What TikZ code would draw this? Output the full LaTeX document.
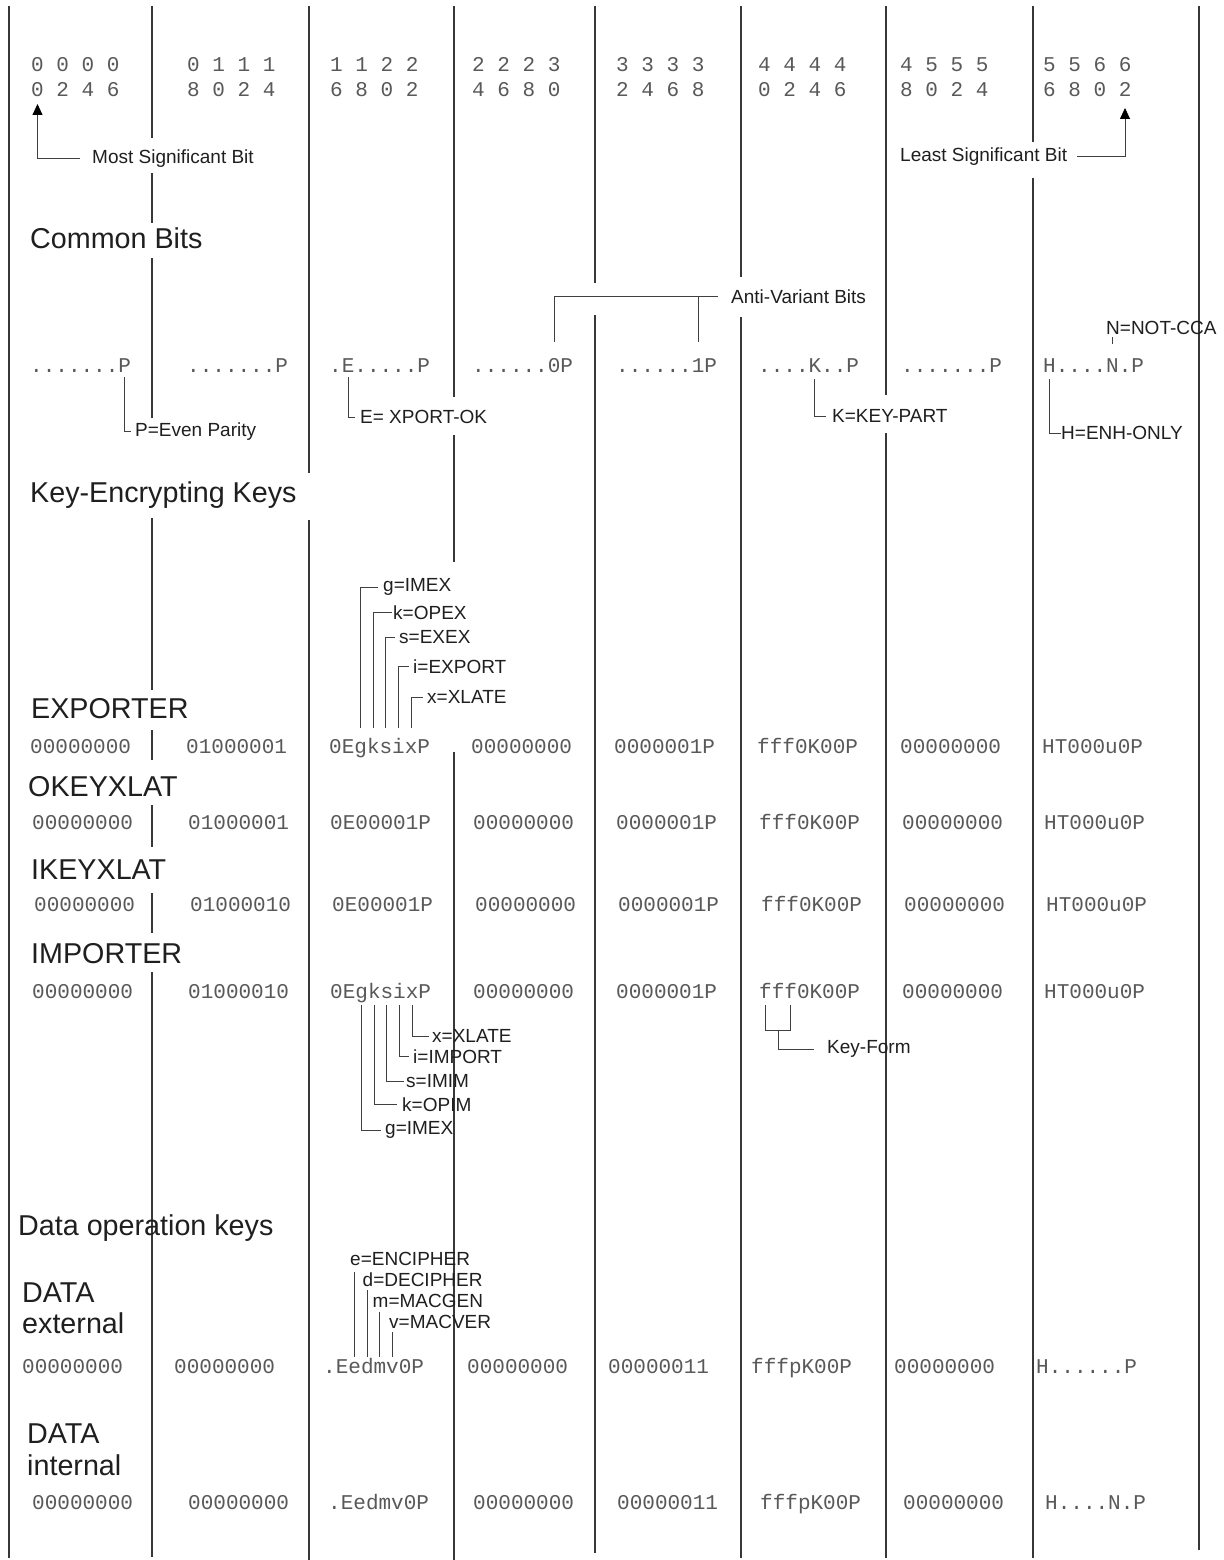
\documentclass[tikz,border=0pt]{standalone}
\usepackage{fontspec}
\setmainfont{Liberation Sans}
\newfontfamily\monofam{Liberation Mono}
\usetikzlibrary{arrows.meta}
\newcommand\labf{\fontsize{19}{22}\selectfont}
\newcommand\ttlf{\fontsize{28.7}{32}\selectfont}
\newcommand\monof{\monofam\fontsize{21}{24}\selectfont}
\tikzset{
  mono/.style={font=\monof, text=black!65, inner sep=0pt, anchor=base west},
  lab/.style={font=\labf, text=black!88, inner sep=0pt, anchor=base west},
  ttl/.style={font=\ttlf, text=black!88, inner sep=0pt, anchor=base west},
  colline/.style={line width=1.1pt, draw=black!78},
  conn/.style={line width=0.8pt, draw=black!75},
  arr/.style={conn, -{Triangle[width=10pt,length=11pt,fill=black,color=black]}},
}
\begin{document}
\begin{tikzpicture}[x=1pt,y=-1pt]
\fill[white] (0,0) rectangle (1223,1560);
\useasboundingbox (0,0) rectangle (1223,1560);

% column separators
\foreach \x/\a/\b in {9/6/1558,
  152/6/138, 152/173/223, 152/258/418, 152/518/690, 152/730/760, 152/805/847, 152/893/933, 152/972/1557,
  309/6/473, 309/520/1560,
  454/6/397, 454/435/562, 454/752/1560,
  595/6/283, 595/315/1553,
  741/6/277, 741/317/1558,
  886/6/395, 886/433/1558,
  1033/6/142, 1033/178/1558,
  1199/6/1550}
  \draw[colline] (\x,\a) -- (\x,\b);

% header
\node[mono] (hd1a) at (31,72) {0 0 0 0};
\node[mono] (hd1b) at (31,97) {0 2 4 6};
\node[mono] (hd2a) at (187,72) {0 1 1 1};
\node[mono] (hd2b) at (187,97) {8 0 2 4};
\node[mono] (hd3a) at (330,72) {1 1 2 2};
\node[mono] (hd3b) at (330,97) {6 8 0 2};
\node[mono] (hd4a) at (472,72) {2 2 2 3};
\node[mono] (hd4b) at (472,97) {4 6 8 0};
\node[mono] (hd5a) at (616,72) {3 3 3 3};
\node[mono] (hd5b) at (616,97) {2 4 6 8};
\node[mono] (hd6a) at (758,72) {4 4 4 4};
\node[mono] (hd6b) at (758,97) {0 2 4 6};
\node[mono] (hd7a) at (900,72) {4 5 5 5};
\node[mono] (hd7b) at (900,97) {8 0 2 4};
\node[mono] (hd8a) at (1043,72) {5 5 6 6};
\node[mono] (hd8b) at (1043,97) {6 8 0 2};

\node[lab] (msb) at (92,163.5) {Most Significant Bit};
\node[lab] (lsb) at (900,161.5) {Least Significant Bit};
\coordinate (msbTip) at (37.5,104);
\coordinate (lsbTip) at (1125,108);
\draw[arr] ([xshift=-12pt]msb.west) -| (msbTip);
\draw[arr] ([xshift=10pt]lsb.east) -| (lsbTip);

\node[ttl] (tCommon) at (30,248) {Common Bits};

% anti-variant
\node[lab] (anti) at (731,303.5) {Anti-Variant Bits};
\coordinate (av0) at (553.9,342);
\coordinate (av1) at (697.9,342);
\draw[conn] (av0) |- ([xshift=-13pt]anti.west);
\draw[conn] (av1) -- (av1 |- anti.west);

% common row
\node[mono] (cm1) at (30,372) {.......P};
\node[mono] (cm2) at (187,372) {.......P};
\node[mono] (cm3) at (329,372) {.E.....P};
\node[mono] (cm4) at (472,372) {......0P};
\node[mono] (cm5) at (616,372) {......1P};
\node[mono] (cm6) at (758,372) {....K..P};
\node[mono] (cm7) at (901,372) {.......P};
\node[mono] (cm8) at (1043,372) {H....N.P};

\node[lab] (nNot) at (1106,334.5) {N=NOT-CCA};
\coordinate (bN) at (1112,344);
\draw[conn] (bN) -- (1112,337);

\node[lab] (lP) at (135,436.5) {P=Even Parity};
\node[lab] (lE) at (360,423.5) {E= XPORT-OK};
\node[lab] (lK) at (832,422.5) {K=KEY-PART};
\node[lab] (lH) at (1061,439.5) {H=ENH-ONLY};
\coordinate (bP) at (124.5,377);
\coordinate (bE) at (347.9,377);
\coordinate (bK) at (814.7,379);
\coordinate (bH) at (1049.3,379);
\draw[conn] (bP) |- ([xshift=-4pt]lP.west);
\draw[conn] (bE) |- ([xshift=-5pt]lE.west);
\draw[conn] (bK) |- ([xshift=-6pt]lK.west);
\draw[conn] (bH) |- (lH.west);

\node[ttl] (tKek) at (30,502) {Key-Encrypting Keys};

% EXPORTER labels
\node[lab] (xg) at (383,591.5) {g=IMEX};
\node[lab] (xk) at (393,619.5) {k=OPEX};
\node[lab] (xs) at (399,643.5) {s=EXEX};
\node[lab] (xi) at (413,673.5) {i=EXPORT};
\node[lab] (xx) at (427,703.5) {x=XLATE};
\coordinate (eg) at (360.5,728);
\coordinate (ek) at (373.1,728);
\coordinate (es) at (385.7,728);
\coordinate (ei) at (398.3,728);
\coordinate (ex) at (410.9,728);
\draw[conn] (eg) |- ([xshift=-5pt]xg.west);
\draw[conn] (ek) |- ([xshift=-1pt]xk.west);
\draw[conn] (es) |- ([xshift=-4pt]xs.west);
\draw[conn] (ei) |- ([xshift=-4pt]xi.west);
\draw[conn] (ex) |- ([xshift=-4pt]xx.west);

% key-encrypting key rows
\node[ttl] (tExp) at (31,718) {EXPORTER};
\node[mono] (ex1) at (30,753) {00000000};
\node[mono] (ex2) at (186,753) {01000001};
\node[mono] (ex3) at (329,753) {0EgksixP};
\node[mono] (ex4) at (471,753) {00000000};
\node[mono] (ex5) at (614,753) {0000001P};
\node[mono] (ex6) at (757,753) {fff0K00P};
\node[mono] (ex7) at (900,753) {00000000};
\node[mono] (ex8) at (1042,753) {HT000u0P};

\node[ttl] (tOk) at (28,796) {OKEYXLAT};
\node[mono] (ok1) at (32,829) {00000000};
\node[mono] (ok2) at (188,829) {01000001};
\node[mono] (ok3) at (330,829) {0E00001P};
\node[mono] (ok4) at (473,829) {00000000};
\node[mono] (ok5) at (616,829) {0000001P};
\node[mono] (ok6) at (759,829) {fff0K00P};
\node[mono] (ok7) at (902,829) {00000000};
\node[mono] (ok8) at (1044,829) {HT000u0P};

\node[ttl] (tIk) at (31,879) {IKEYXLAT};
\node[mono] (ik1) at (34,911) {00000000};
\node[mono] (ik2) at (190,911) {01000010};
\node[mono] (ik3) at (332,911) {0E00001P};
\node[mono] (ik4) at (475,911) {00000000};
\node[mono] (ik5) at (618,911) {0000001P};
\node[mono] (ik6) at (761,911) {fff0K00P};
\node[mono] (ik7) at (904,911) {00000000};
\node[mono] (ik8) at (1046,911) {HT000u0P};

\node[ttl] (tImp) at (31,963) {IMPORTER};
\node[mono] (im1) at (32,998) {00000000};
\node[mono] (im2) at (188,998) {01000010};
\node[mono] (im3) at (330,998) {0EgksixP};
\node[mono] (im4) at (473,998) {00000000};
\node[mono] (im5) at (616,998) {0000001P};
\node[mono] (im6) at (759,998) {fff0K00P};
\node[mono] (im7) at (902,998) {00000000};
\node[mono] (im8) at (1044,998) {HT000u0P};

% IMPORTER labels
\node[lab] (ix) at (432,1042.5) {x=XLATE};
\node[lab] (ii) at (413,1063.5) {i=IMPORT};
\node[lab] (is) at (406,1087.5) {s=IMIM};
\node[lab] (ik) at (402,1111.5) {k=OPIM};
\node[lab] (ig) at (385,1134.5) {g=IMEX};
\coordinate (pg) at (361.5,1005);
\coordinate (pk) at (374.1,1005);
\coordinate (ps) at (386.7,1005);
\coordinate (pi) at (399.3,1005);
\coordinate (px) at (411.9,1005);
\draw[conn] (px) |- ([xshift=-3pt]ix.west);
\draw[conn] (pi) |- ([xshift=-4pt]ii.west);
\draw[conn] (ps) |- ([xshift=-2pt]is.west);
\draw[conn] (pk) |- ([xshift=-5pt]ik.west);
\draw[conn] (pg) |- ([xshift=-4pt]ig.west);

% Key-Form
\node[lab] (kf) at (827,1053.5) {Key-Form};
\coordinate (kf0) at (765.3,1005);
\coordinate (kf2) at (790.5,1005);
\coordinate (kfm) at (777.9,1030);
\draw[conn] (kf0) |- (kfm) -| (kf2);
\draw[conn] (kfm) |- ([xshift=-13pt]kf.west);

% data operation keys
\node[ttl] (tData) at (18,1235) {Data operation keys};

\node[lab] (le) at (350,1265) {e=ENCIPHER};
\node[lab] (ld) at (362.5,1286) {d=DECIPHER};
\node[lab] (lm) at (372.5,1307) {m=MACGEN};
\node[lab] (lv) at (389,1328) {v=MACVER};
\coordinate (de) at (354.5,1357);
\coordinate (dd) at (367.1,1357);
\coordinate (dm) at (379.7,1357);
\coordinate (dv) at (392.3,1357);
\draw[conn] (de) -- (de |- 0,1272);
\draw[conn] (dd) -- (dd |- 0,1290);
\draw[conn] (dm) -- (dm |- 0,1312);
\draw[conn] (dv) -- (dv |- 0,1332);

\node[ttl] (tDe1) at (22,1302) {DATA};
\node[ttl] (tDe2) at (22,1333) {external};
\node[mono] (de1) at (22,1373) {00000000};
\node[mono] (de2) at (174,1373) {00000000};
\node[mono] (de3) at (323,1373) {.Eedmv0P};
\node[mono] (de4) at (467,1373) {00000000};
\node[mono] (de5) at (608,1373) {00000011};
\node[mono] (de6) at (751,1373) {fffpK00P};
\node[mono] (de7) at (894,1373) {00000000};
\node[mono] (de8) at (1036,1373) {H......P};

\node[ttl] (tDi1) at (27,1443) {DATA};
\node[ttl] (tDi2) at (27,1475) {internal};
\node[mono] (di1) at (32,1509) {00000000};
\node[mono] (di2) at (188,1509) {00000000};
\node[mono] (di3) at (328,1509) {.Eedmv0P};
\node[mono] (di4) at (473,1509) {00000000};
\node[mono] (di5) at (617,1509) {00000011};
\node[mono] (di6) at (760,1509) {fffpK00P};
\node[mono] (di7) at (903,1509) {00000000};
\node[mono] (di8) at (1045,1509) {H....N.P};
\end{tikzpicture}
\end{document}
